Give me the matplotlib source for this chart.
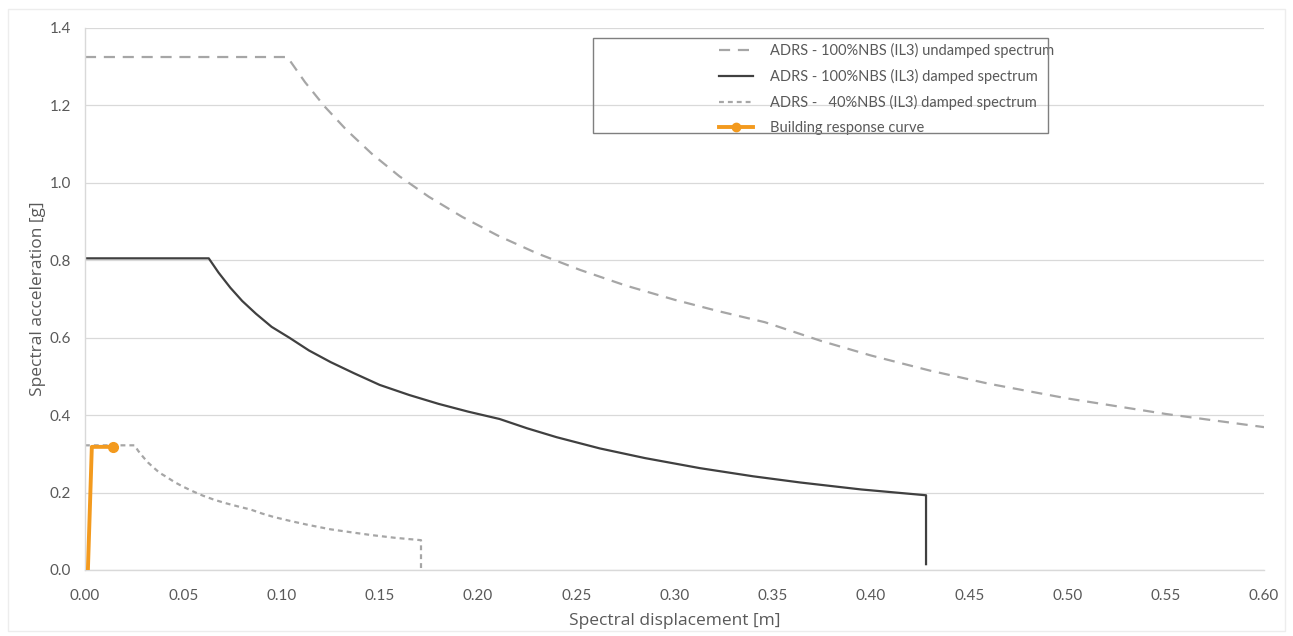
import matplotlib
matplotlib.use('Agg')
import matplotlib.pyplot as plt
from matplotlib.lines import Line2D
from matplotlib.patches import Rectangle

# ---- data ----
undamped_sd = [0.0, 0.103, 0.112, 0.122, 0.133, 0.146, 0.160, 0.175, 0.192, 0.210, 0.230,
               0.252, 0.275, 0.300, 0.322, 0.346, 0.375, 0.40, 0.43, 0.46, 0.50, 0.55, 0.60]
undamped_sa = [1.325, 1.325, 1.260, 1.197, 1.137, 1.075, 1.017, 0.964, 0.912, 0.864, 0.818,
               0.775, 0.735, 0.698, 0.669, 0.640, 0.591, 0.554, 0.515, 0.481, 0.443, 0.403, 0.369]

damped_sd = [0.0, 0.063, 0.068, 0.074, 0.080, 0.087, 0.095, 0.104, 0.114, 0.125, 0.137,
             0.150, 0.165, 0.180, 0.195, 0.211, 0.225, 0.240, 0.262, 0.285, 0.313, 0.340,
             0.364, 0.395, 0.428, 0.428]
damped_sa = [0.805, 0.805, 0.768, 0.729, 0.695, 0.662, 0.628, 0.600, 0.567, 0.537, 0.508,
             0.478, 0.452, 0.429, 0.409, 0.390, 0.366, 0.343, 0.314, 0.289, 0.263, 0.242,
             0.226, 0.208, 0.193, 0.015]

nbs40_sd = [0.0, 0.0252, 0.0272, 0.0296, 0.032, 0.0348, 0.038, 0.0416, 0.0456, 0.050, 0.055,
            0.060, 0.066, 0.072, 0.078, 0.0844, 0.090, 0.096, 0.105, 0.114, 0.125, 0.136,
            0.146, 0.158, 0.171, 0.171]
nbs40_sa = [0.322, 0.322, 0.307, 0.292, 0.278, 0.265, 0.251, 0.240, 0.227, 0.215, 0.203,
            0.192, 0.181, 0.172, 0.164, 0.156, 0.146, 0.137, 0.126, 0.116, 0.105, 0.097,
            0.090, 0.083, 0.077, 0.005]

building_sd = [0.0015, 0.0035, 0.0143]
building_sa = [0.0, 0.318, 0.318]

labels = ['ADRS - 100%NBS (IL3) undamped spectrum',
          'ADRS - 100%NBS (IL3) damped spectrum',
          'ADRS -   40%NBS (IL3) damped spectrum',
          'Building response curve']

x_ticks = [0.0, 0.05, 0.10, 0.15, 0.20, 0.25, 0.30, 0.35, 0.40, 0.45, 0.50, 0.55, 0.60]
y_ticks = [0.0, 0.2, 0.4, 0.6, 0.8, 1.0, 1.2, 1.4]

text_col = '#595959'
grid_col = '#D9D9D9'
orange = '#F39A1E'

fig = plt.figure(figsize=(12.93, 6.36), dpi=100)
ax = fig.add_axes([0.0657, 0.1038, 0.9119, 0.8522])

# faint chart border like the Excel frame
fig.patches.append(Rectangle((0.006, 0.008), 0.988, 0.978, transform=fig.transFigure,
                             fill=False, edgecolor='#EDEDED', linewidth=1))

l1, = ax.plot(undamped_sd, undamped_sa, color='#A6A6A6', lw=1.6, ls=(0, (5, 3.5)))
l2, = ax.plot(damped_sd, damped_sa, color='#404040', lw=1.6)
l3, = ax.plot(nbs40_sd, nbs40_sa, color='#A6A6A6', lw=1.6, ls=(0, (2.2, 1.8)))
ax.plot(building_sd, building_sa, color=orange, lw=2.8, zorder=5)
ax.plot(building_sd[-1:], building_sa[-1:], 'o', color=orange, ms=7, zorder=6)

ax.set_xlim(0, 0.6)
ax.set_ylim(0, 1.4)
ax.set_xticks(x_ticks)
ax.set_xticklabels(['%.2f' % v for v in x_ticks])
ax.set_yticks(y_ticks)
ax.set_yticklabels(['%.1f' % v for v in y_ticks])
ax.tick_params(length=0, labelsize=11, labelcolor=text_col)
ax.tick_params(axis='x', pad=14)
ax.tick_params(axis='y', pad=10)
for lab in ax.get_xticklabels() + ax.get_yticklabels():
    lab.set_family('Lato')

ax.grid(axis='y', color=grid_col, lw=0.9)
ax.set_axisbelow(True)
for side in ['top', 'right']:
    ax.spines[side].set_visible(False)
for side in ['left', 'bottom']:
    ax.spines[side].set_color(grid_col)
    ax.spines[side].set_linewidth(1.0)

ax.set_xlabel('Spectral displacement [m]', fontsize=12.5, color=text_col,
              family='Open Sans', labelpad=7)
ax.set_ylabel('Spectral acceleration [g]', fontsize=12.5, color=text_col,
              family='Open Sans', labelpad=3)

# legend frame drawn separately (Excel style, wide empty left part)
ax.add_patch(Rectangle((0.431, 0.806), 0.386, 0.176, transform=ax.transAxes,
                       fill=False, edgecolor='#7F7F7F', lw=1.0, zorder=7, clip_on=False))
leg_l4 = Line2D([], [], color=orange, lw=2.8, marker='o', ms=6, markevery=[1])
leg = ax.legend([l1, l2, l3, leg_l4], labels, loc='upper left',
                bbox_to_anchor=(0.527, 0.997), frameon=False,
                handlelength=2.3, handletextpad=1.2, labelspacing=0.76,
                prop={'family': 'Lato', 'size': 10.5})
for t in leg.get_texts():
    t.set_color(text_col)

fig.savefig('out.png', dpi=100, facecolor='white')
